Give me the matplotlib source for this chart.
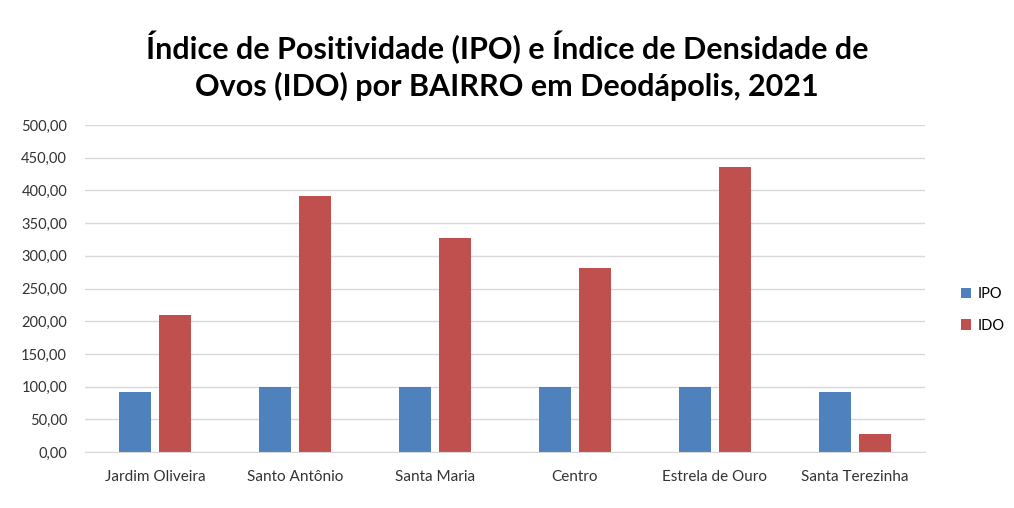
import matplotlib.pyplot as plt
import numpy as np
from matplotlib.ticker import FuncFormatter

bairros = ["Jardim Oliveira", "Santo Antônio", "Santa Maria", "Centro",
           "Estrela de Ouro", "Santa Terezinha"]
ipo = [92, 100, 100, 100, 100, 92]
ido = [209.5, 392, 328, 281, 436, 28]

plt.rcParams["font.family"] = ["Lato", "DejaVu Sans"]

fig = plt.figure(figsize=(10.14, 5.08), dpi=100)
ax = fig.add_axes([0.084, 0.110, 0.828, 0.644])

x = np.arange(len(bairros))
w = 0.229
ax.bar(x - w / 2 - 0.029, ipo, width=w, color="#4F81BD", label="IPO")
ax.bar(x + w / 2 + 0.029, ido, width=w, color="#C0504D", label="IDO")

ax.set_xlim(-0.5, len(bairros) - 0.5)
ax.set_ylim(0, 500)
ax.set_yticks(np.arange(0, 501, 50))
ax.yaxis.set_major_formatter(FuncFormatter(lambda v, p: f"{v:.2f}".replace(".", ",")))
ax.set_xticks(x)
ax.set_xticklabels(bairros)
ax.tick_params(length=0, colors="#333333")
ax.tick_params(axis="x", pad=13, labelsize=11)
ax.tick_params(axis="y", pad=13, labelsize=10.5)
ax.grid(axis="y", color="#d9d9d9", linewidth=1)
ax.set_axisbelow(True)
for s in ["top", "right", "left"]:
    ax.spines[s].set_visible(False)
ax.spines["bottom"].set_color("#d9d9d9")

fig.text(0.5, 0.87, "Índice de Positividade (IPO) e Índice de Densidade de\nOvos (IDO) por BAIRRO em Deodápolis, 2021",
         ha="center", va="center", fontsize=22, fontweight="bold", linespacing=1.3)

fig.legend(loc="center left", bbox_to_anchor=(0.935, 0.39), frameon=False,
           fontsize=10.5, handlelength=0.7, handleheight=0.7, labelspacing=1.2,
           handletextpad=0.4)

fig.savefig("out.png")
